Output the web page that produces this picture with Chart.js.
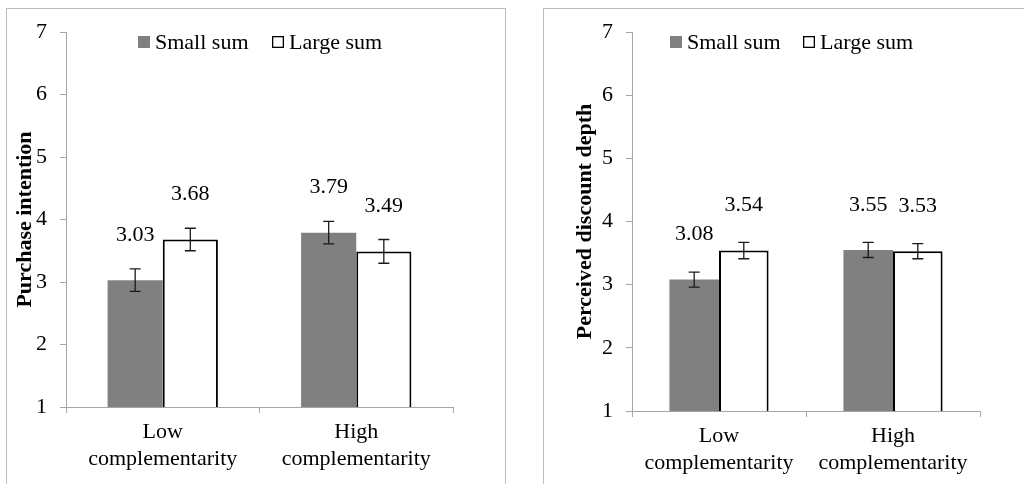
<!DOCTYPE html>
<html>
<head>
<meta charset="utf-8">
<script src="https://cdn.jsdelivr.net/npm/chart.js@4.4.1/dist/chart.umd.min.js"></script>
<style>
  html, body { margin: 0; padding: 0; background: #ffffff; }
  body { width: 1024px; height: 484px; position: relative; overflow: hidden; }
  .panel { position: absolute; box-sizing: border-box; border: 1px solid #bdbdbd; }
  #panelA { left: 6px; top: 8px; width: 500px; height: 520px; }
  #panelB { left: 543px; top: 8px; width: 520px; height: 520px; }
  canvas { position: absolute; top: 0; }
  #chartA { left: 0; }
  #chartB { left: 512px; }
</style>
</head>
<body>
<div class="panel" id="panelA"></div>
<div class="panel" id="panelB"></div>
<canvas id="chartA" width="512" height="484"></canvas>
<canvas id="chartB" width="512" height="484"></canvas>
<script>
// Categories and series
const categories = [['Low', 'complementarity'], ['High', 'complementarity']];
const seriesNames = ['Small sum', 'Large sum'];
const yTicks = [1, 2, 3, 4, 5, 6, 7];

// Purchase intention: means and error half-widths
const purchaseSmall = [3.03, 3.79];
const purchaseLarge = [3.68, 3.49];
const purchaseSmallErr = [0.18, 0.18];
const purchaseLargeErr = [0.18, 0.19];

// Perceived discount depth: means and error half-widths
const discountSmall = [3.08, 3.55];
const discountLarge = [3.54, 3.53];
const discountSmallErr = [0.12, 0.12];
const discountLargeErr = [0.13, 0.12];

const SERIF = '"Liberation Serif", "Times New Roman", serif';
const AXIS_GREY = '#a6a6a6';

// Error bars with caps, drawn from each dataset's `errors` array
const errorBarPlugin = {
  id: 'errorBars',
  afterDatasetsDraw(chart) {
    const ctx = chart.ctx;
    const y = chart.scales.y;
    ctx.save();
    ctx.strokeStyle = '#1a1a1a';
    ctx.lineWidth = 1.3;
    chart.data.datasets.forEach((ds, i) => {
      const meta = chart.getDatasetMeta(i);
      meta.data.forEach((bar, j) => {
        const v = ds.data[j], e = ds.errors[j];
        const yTop = y.getPixelForValue(v + e);
        const yBot = y.getPixelForValue(v - e);
        const cap = 5.5;
        ctx.beginPath();
        ctx.moveTo(bar.x, yTop); ctx.lineTo(bar.x, yBot);
        ctx.moveTo(bar.x - cap, yTop); ctx.lineTo(bar.x + cap, yTop);
        ctx.moveTo(bar.x - cap, yBot); ctx.lineTo(bar.x + cap, yBot);
        ctx.stroke();
      });
    });
    ctx.restore();
  }
};

// Mean values printed above each bar
const valueLabelPlugin = {
  id: 'valueLabels',
  afterDatasetsDraw(chart, args, opts) {
    const ctx = chart.ctx;
    ctx.save();
    ctx.font = '22px ' + SERIF;
    ctx.fillStyle = '#000';
    ctx.textAlign = 'center';
    ctx.textBaseline = 'middle';
    chart.data.datasets.forEach((ds, i) => {
      chart.getDatasetMeta(i).data.forEach((bar, j) => {
        ctx.fillText(ds.data[j].toFixed(2), bar.x, bar.y - opts.offset);
      });
    });
    ctx.restore();
  }
};

// Legend row drawn inside the plot area
const boxLegendPlugin = {
  id: 'boxLegend',
  afterDraw(chart, args, opts) {
    const ctx = chart.ctx;
    ctx.save();
    ctx.font = '22px ' + SERIF;
    ctx.textBaseline = 'middle';
    ctx.textAlign = 'left';
    chart.data.datasets.forEach((ds, i) => {
      const x = opts.xs[i], yc = opts.y, s = 12;
      if (ds.borderWidth > 0) {
        ctx.fillStyle = '#fff';
        ctx.fillRect(x, yc - s / 2, s, s);
        ctx.strokeStyle = '#000';
        ctx.lineWidth = 1.3;
        ctx.strokeRect(x + 0.65, yc - s / 2 + 0.65, s - 1.3, s - 1.3);
      } else {
        ctx.fillStyle = ds.backgroundColor;
        ctx.fillRect(x, yc - s / 2, s, s);
      }
      ctx.fillStyle = '#000';
      ctx.fillText(ds.label, x + s + opts.gap, yc + 1);
    });
    ctx.restore();
  }
};

function makeChart(id, cfg) {
  return new Chart(document.getElementById(id), {
    type: 'bar',
    data: {
      labels: categories,
      datasets: [
        { label: seriesNames[0], data: cfg.small, errors: cfg.smallErr,
          backgroundColor: '#808080', borderWidth: 0,
          categoryPercentage: 0.57, barPercentage: 1.0 },
        { label: seriesNames[1], data: cfg.large, errors: cfg.largeErr,
          backgroundColor: '#ffffff', borderColor: '#000000', borderWidth: 2,
          borderSkipped: false,
          categoryPercentage: 0.57, barPercentage: 1.0 }
      ]
    },
    options: {
      responsive: false,
      maintainAspectRatio: false,
      animation: false,
      layout: { padding: { top: cfg.top, right: cfg.right, left: 0, bottom: 0 } },
      plugins: {
        legend: { display: false },
        tooltip: { enabled: false },
        valueLabels: { offset: 45 },
        boxLegend: { xs: cfg.legendXs, y: 42, gap: 5 }
      },
      scales: {
        x: {
          afterFit: (s) => { s.height = cfg.xHeight; },
          grid: { offset: true, drawOnChartArea: false, color: AXIS_GREY, tickLength: 6 },
          border: { color: AXIS_GREY, width: 1 },
          ticks: { color: '#000', padding: 6, maxRotation: 0,
                   font: { family: SERIF, size: 22, lineHeight: 1.23 } }
        },
        y: {
          min: 1, max: 7,
          afterFit: (s) => { s.width = cfg.yWidth; },
          afterBuildTicks: (s) => { s.ticks = yTicks.map(v => ({ value: v })); },
          grid: { drawOnChartArea: false, color: AXIS_GREY, tickLength: 6 },
          border: { color: AXIS_GREY, width: 1 },
          ticks: { color: '#000', padding: 13,
                   font: { family: SERIF, size: 22 } },
          title: { display: true, text: cfg.title, color: '#000',
                   padding: { top: cfg.titlePad, bottom: 0 },
                   font: { family: SERIF, size: 22, weight: 'bold' } }
        }
      }
    },
    plugins: [errorBarPlugin, valueLabelPlugin, boxLegendPlugin]
  });
}

makeChart('chartA', {
  title: 'Purchase intention',
  small: purchaseSmall, large: purchaseLarge,
  smallErr: purchaseSmallErr, largeErr: purchaseLargeErr,
  top: 32, right: 59, xHeight: 77, yWidth: 66, titlePad: 12,
  legendXs: [138, 272]
});

makeChart('chartB', {
  title: 'Perceived discount depth',
  small: discountSmall, large: discountLarge,
  smallErr: discountSmallErr, largeErr: discountLargeErr,
  top: 32, right: 44, xHeight: 73, yWidth: 120, titlePad: 60,
  legendXs: [158, 291]
});
</script>
</body>
</html>
